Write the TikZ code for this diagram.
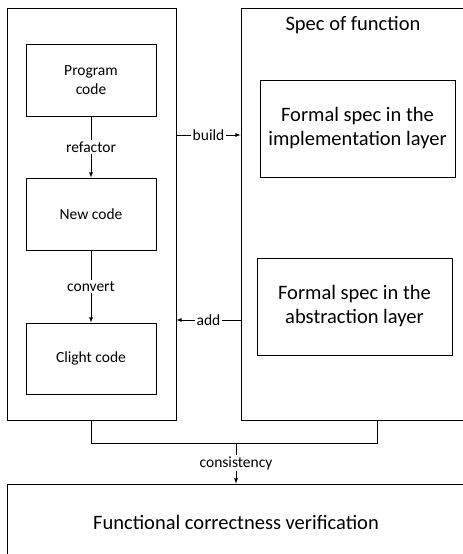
\documentclass[tikz,border=0pt]{standalone}
\usepackage{fontspec}
\setmainfont{Carlito}
\usetikzlibrary{arrows,positioning}
\tikzstyle{panel}=[draw,rectangle,inner sep=0pt]
\tikzstyle{codebox}=[draw,rectangle,minimum width=130pt,minimum height=72pt,align=center,font=\fontsize{15.5}{19}\selectfont]
\tikzstyle{specbox}=[draw,rectangle,minimum width=195pt,minimum height=97pt,align=center,font=\fontsize{20.5}{24}\selectfont]
\tikzstyle{lbl}=[fill=white,inner sep=1.5pt,font=\fontsize{15.5}{19}\selectfont]

\begin{document}
\begin{tikzpicture}[x=1pt,y=-1pt,line width=0.8pt,>=latex]
\useasboundingbox (0,0) rectangle (463,554);
\clip (0,0) rectangle (463,554);
\draw (91.5, 214) node [panel, minimum width=169pt, minimum height=412pt] (left) {};
\draw (377, 214) node [panel, minimum width=272pt, minimum height=412pt] (right) {};
\draw (353, 25) node [font=\fontsize{20.5}{24}\selectfont] (title) {Spec of function};
\draw (91, 80) node [codebox] (prog) {Program\\code};
\draw (91, 214) node [codebox] (new) {New code};
\draw (91, 358.5) node [codebox, minimum height=71pt] (clight) {Clight code};
\draw (357.5, 128.5) node [specbox] (impl) {Formal spec in the\\implementation layer};
\draw (354.5, 306.5) node [specbox] (abst) {Formal spec in the\\abstraction layer};
\draw (236, 527) node [panel, minimum width=458pt, minimum height=86pt] (verif) {};
\draw (236, 522) node [font=\fontsize{20.5}{24}\selectfont] (vtext) {Functional correctness verification};
\draw [->] (prog) -- node [lbl] {refactor} (new);
\draw [->] (new) -- node [lbl] {convert} (clight);
\draw [->] (left.east |- 0,135) -- node [lbl] {build} (right.west |- 0,135);
\draw [->] (right.west |- 0,320) -- node [lbl] {add} (left.east |- 0,320);
\draw (left.south) -- ++(0,23) -| (right.south);
\coordinate (join) at (236, 443);
\draw [->] (join) -- node [lbl] {consistency} (verif.north);
\end{tikzpicture}
\end{document}
